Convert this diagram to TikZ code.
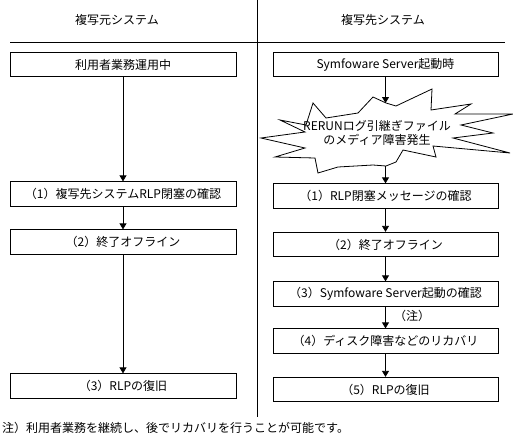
\documentclass[tikz,border=0pt]{standalone}
\usepackage{fontspec}
\setmainfont{Noto Sans CJK JP}
\usetikzlibrary{arrows.meta}
\tikzset{
  box/.style={draw, line width=0.8pt, minimum width=225pt, minimum height=24.5pt, inner sep=0pt, font=\fontsize{12}{14}\selectfont},
  lbl/.style={inner sep=0pt, font=\fontsize{12}{14}\selectfont},
  flow/.style={line width=0.8pt, -{Triangle[width=7pt,length=6pt]}},
  rule/.style={line width=0.8pt}
}
\begin{document}
\begin{tikzpicture}[x=1pt,y=-1pt]
\useasboundingbox (0,0) rectangle (513,439);
% headers and rules
\node[lbl] (hl) at (117,20) {複写元システム};
\node[lbl] (hr) at (383,20) {複写先システム};
\coordinate (hA) at (10,42);
\coordinate (hB) at (505,42);
\coordinate (vA) at (257,0);
\coordinate (vB) at (257,417);
\draw[rule] (hA) -- (hB);
\draw[rule] (vA) -- (vB);
% left column
\node[box, minimum width=226pt] (L0) at (123,64.5) {利用者業務運用中};
\node[box, minimum width=226pt] (L1) at (123,194) {（1）複写先システムRLP閉塞の確認};
\node[box, minimum width=226pt] (L2) at (123,242) {（2）終了オフライン};
\node[box, minimum width=226pt] (L3) at (123,386) {（3）RLPの復旧};
\draw[flow] (L0.south) -- (L1.north);
\draw[flow] (L1.south) -- (L2.north);
\draw[flow] (L2.south) -- (L3.north);
% right column
\node[box] (R0) at (385.5,64.5) {Symfoware Server起動時};
\coordinate (startop) at (385.5,103);
\coordinate (starbot) at (385.5,166);
\draw[line width=0.8pt, fill=white]
  (386,103) -- (396,106) -- (432,89) -- (431,110) -- (471,104) -- (455,114)
  -- (513,114) -- (461,125) -- (493,133) -- (453,138) -- (510,153) -- (433,146)
  -- (436,157) -- (403,150) -- (396,162) -- (386,166) -- (373,165) -- (338,167)
  -- (318,173) -- (315,158) -- (275,157) -- (305,148) -- (261,138) -- (305,132)
  -- (280,120) -- (306,125) -- (313,103) -- (326,118) -- (358,113) -- (373,97)
  -- cycle;
\node[lbl, align=center] (star) at (377,133) {RERUNログ引継ぎファイル\\のメディア障害発生};
\node[box] (R1) at (385.5,196) {（1）RLP閉塞メッセージの確認};
\node[box] (R2) at (385.5,244.5) {（2）終了オフライン};
\node[box] (R3) at (385.5,294) {（3）Symfoware Server起動の確認};
\node[box] (R4) at (385.5,341) {（4）ディスク障害などのリカバリ};
\node[box] (R5) at (385.5,389.5) {（5）RLPの復旧};
\node[lbl] (note) at (412,316) {（注）};
\draw[flow] (R0.south) -- (startop);
\draw[flow] (starbot) -- (R1.north);
\draw[flow] (R1.south) -- (R2.north);
\draw[flow] (R2.south) -- (R3.north);
\draw[flow] (R3.south) -- (R4.north);
\draw[flow] (R4.south) -- (R5.north);
% footnote
\node[lbl, anchor=west] (foot) at (2,428) {注）利用者業務を継続し、後でリカバリを行うことが可能です。};
\end{tikzpicture}
\end{document}
